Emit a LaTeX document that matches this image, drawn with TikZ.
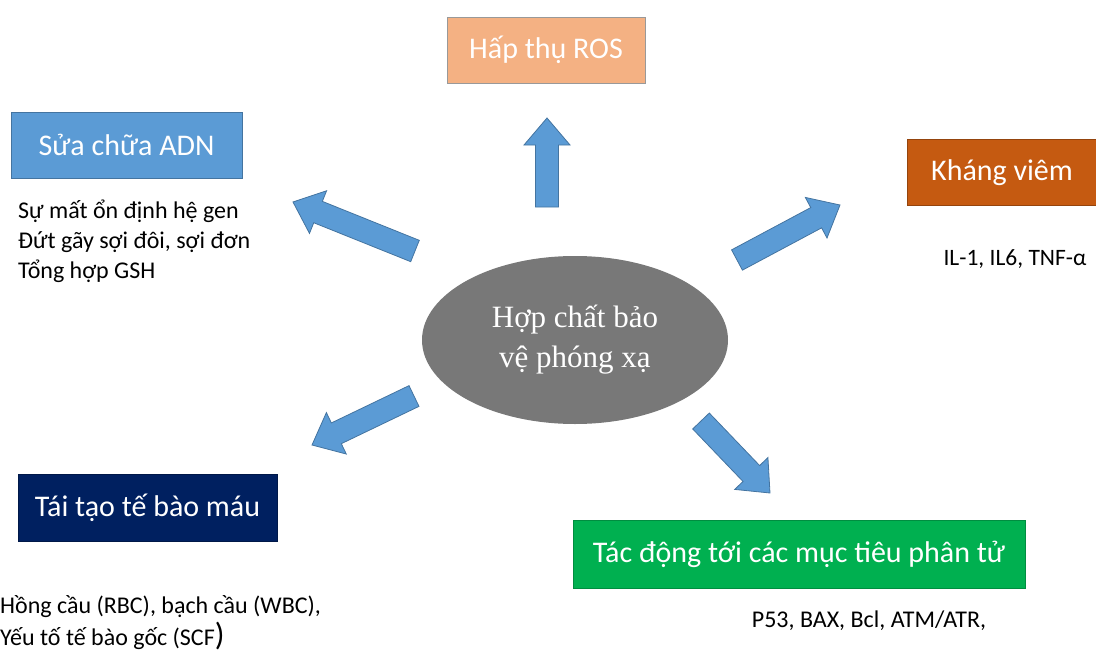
\documentclass[tikz,border=0pt]{standalone}
\usepackage{fontspec}
\setmainfont{Carlito}
\newfontfamily\corefont{Liberation Serif}
\usetikzlibrary{calc,shapes.geometric}

\definecolor{rosfill}{HTML}{F4B183}
\definecolor{adnfill}{HTML}{5B9BD5}
\definecolor{viemfill}{HTML}{C55A11}
\definecolor{taifill}{HTML}{002060}
\definecolor{tacfill}{HTML}{00B050}
\definecolor{corefill}{HTML}{787878}
\definecolor{arrblue}{HTML}{5B9BD5}

% block arrow from tail coordinate #1 to tip coordinate #2
\newcommand{\blockarrow}[2]{%
  \coordinate (hb) at ($(#2)!27pt!(#1)$);
  \filldraw[barrow] ($(#1)!11.5pt!90:(#2)$) -- ($(hb)!11.5pt!-90:(#1)$)
    -- ($(hb)!23pt!-90:(#1)$) -- (#2) -- ($(hb)!23pt!90:(#1)$)
    -- ($(hb)!11.5pt!90:(#1)$) -- ($(#1)!11.5pt!-90:(#2)$) -- cycle;}

\begin{document}
\begin{tikzpicture}[
  x=1pt,y=-1pt,
  box/.style={rectangle,draw=black!45,line width=0.8pt,text=white,inner sep=0pt,
              minimum height=66pt,font=\fontsize{30}{35}\selectfont},
  rosbox/.style={box,fill=rosfill,draw=gray!80},
  adnbox/.style={box,fill=adnfill,draw=adnfill!75!black},
  viembox/.style={box,fill=viemfill,draw=viemfill!75!black},
  taibox/.style={box,fill=taifill,draw=taifill!75!black},
  tacbox/.style={box,fill=tacfill,draw=tacfill!80!black},
  core/.style={ellipse,fill=corefill,text=white,inner sep=0pt,
               minimum width=306pt,minimum height=168pt,align=center,
               font=\corefont\fontsize{31}{40}\selectfont},
  note/.style={inner sep=0pt,align=left,font=\fontsize{24}{30}\selectfont},
  barrow/.style={fill=arrblue,draw=arrblue!75!black,line width=0.8pt},
]
\useasboundingbox (0,0) rectangle (1096,653);

% ---- centre ----
\node[core] (core) at (575,340) {Hợp chất bảo\\vệ phóng xạ};

% ---- effect boxes ----
\node[rosbox,minimum width=198pt] (ros) at (546,50) {Hấp thụ ROS};
\node[adnbox,minimum width=231pt] (adn) at (126.5,145) {Sửa chữa ADN};
\node[viembox,minimum width=190pt] (viem) at (1002,172.5) {Kháng viêm};
\node[taibox,minimum width=259pt,minimum height=67pt] (tai) at (147.5,507.5) {Tái tạo tế bào máu};
\node[tacbox,minimum width=452pt,minimum height=68pt] (tac) at (799,554) {Tác động tới các mục tiêu phân tử};

% ---- notes ----
\node[note,anchor=base west] (adnnote) at (18,278)
  {Sự mất ổn định hệ gen\\Đứt gãy sợi đôi, sợi đơn\\Tổng hợp GSH};
\node[note,anchor=base,font=\fontsize{23.5}{28}\selectfont] (viemnote) at (1015,265) {IL-1, IL6, TNF-α};
\node[note,anchor=base west,font=\fontsize{24}{32}\selectfont] (tainote) at (0,645)
  {Hồng cầu (RBC), bạch cầu (WBC),\\Yếu tố tế bào gốc (SCF{\fontsize{32}{32}\selectfont)}};
\node[note,anchor=base] (tacnote) at (869,627) {P53, BAX, Bcl, ATM/ATR,};

% ---- arrows ----
\coordinate (rosT) at (547,207);  \coordinate (rosH) at (547,118);
\coordinate (adnT) at (415,251);  \coordinate (adnH) at (293,202);
\coordinate (viemT) at (737,260); \coordinate (viemH) at (840,205);
\coordinate (taiT) at (414,396);  \coordinate (taiH) at (312,445);
\coordinate (tacT) at (701,421);  \coordinate (tacH) at (770,493);
\blockarrow{rosT}{rosH}
\blockarrow{adnT}{adnH}
\blockarrow{viemT}{viemH}
\blockarrow{taiT}{taiH}
\blockarrow{tacT}{tacH}
\end{tikzpicture}
\end{document}
